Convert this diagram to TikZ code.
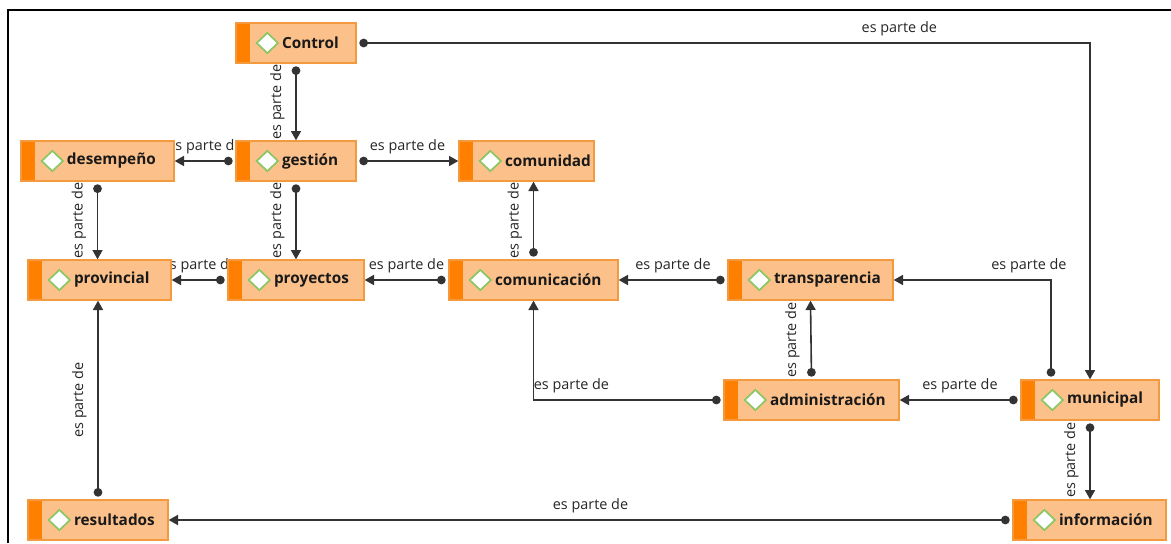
\documentclass[tikz,border=0pt]{standalone}
\usepackage{fontspec}
\setmainfont{Open Sans}
\usetikzlibrary{arrows.meta, backgrounds}
\definecolor{boxfill}{HTML}{FCC08A}
\definecolor{boxline}{HTML}{F39A3E}
\definecolor{barfill}{HTML}{FF7F00}
\definecolor{diagreen}{HTML}{8CC665}
\definecolor{linegray}{HTML}{333333}
\begin{document}
\begin{tikzpicture}[x=0.75pt, y=-0.75pt,
concept/.style={draw=boxline, fill=boxfill, line width=1pt, minimum height=30pt,
  inner xsep=0pt, text width=#1, align=left, text=black!90,
  font=\bfseries\fontsize{11.5}{13}\selectfont,
  execute at begin node={\hspace*{34.5pt}},
  path picture={
    \fill[barfill] (path picture bounding box.north west) rectangle ([xshift=10.5pt]path picture bounding box.south west);
    \draw[diagreen, fill=white, line width=1.3pt] ([xshift=15.5pt]path picture bounding box.west) -- ++(8pt,7.6pt) -- ++(8pt,-7.6pt) -- ++(-8pt,-7.6pt) -- cycle;
  }},
rel/.style={draw=linegray, line width=1.2pt, shorten <=2pt,
  {Circle[length=6.5pt]}-{Triangle[length=7pt, width=7.5pt]}},
lbl/.style={text=black!85, font=\fontsize{10.8}{12}\selectfont, inner sep=4.5pt},
vlbl/.style={lbl, rotate=90, anchor=south, inner ysep=8pt}]
\useasboundingbox (0,0) rectangle (1171,543);
% frame
\draw[line width=2.2pt] (8,543) -- (8,10) -- (1171,10);
% concepts
\node[concept=90pt] (control) at (296,43) {Control};
\node[concept=114.75pt] (desempeno) at (97.5,161) {desempeño};
\node[concept=90pt] (gestion) at (296,161) {gestión};
\node[concept=101.25pt] (comunidad) at (526.5,161) {comunidad};
\node[concept=107.25pt] (provincial) at (99.5,280) {provincial};
\node[concept=102pt] (proyectos) at (296,280) {proyectos};
\node[concept=126.75pt] (comunicacion) at (533.5,280) {comunicación};
\node[concept=123.75pt] (transparencia) at (810.5,280) {transparencia};
\node[concept=131.25pt] (administracion) at (811.5,400) {administración};
\node[concept=103.5pt] (municipal) at (1090,400) {municipal};
\node[concept=105pt] (resultados) at (98,520) {resultados};
\node[concept=114.75pt] (informacion) at (1089.5,520) {información};
% relations
\begin{scope}[on background layer]
\draw[rel] (control.east) -| node[lbl, pos=0.37, above] {es parte de} (municipal.north);
\draw[rel] (control.south) -- node[vlbl] {es parte de} (gestion.north);
\draw[rel] (gestion.west) -- node[lbl, above] {es parte de} (desempeno.east);
\draw[rel] (gestion.east) -- node[lbl, above] {es parte de} (comunidad.west);
\draw[rel] (gestion.south) -- node[vlbl] {es parte de} (proyectos.north);
\draw[rel] (desempeno.south) -- node[vlbl] {es parte de} (desempeno.south |- provincial.north);
\draw[rel] (proyectos.west) -- node[lbl, above] {es parte de} (provincial.east);
\draw[rel] (comunicacion.west) -- node[lbl, above] {es parte de} (proyectos.east);
\draw[rel] (comunicacion.north) -- node[vlbl] {es parte de} (comunicacion.north |- comunidad.south);
\draw[rel] (transparencia.west) -- node[lbl, above] {es parte de} (comunicacion.east);
\draw[rel] (administracion.north) -- node[vlbl] {es parte de} (transparencia.south);
\draw[rel] ([xshift=-29.25pt]municipal.north) |- node[lbl, pos=0.57, above] {es parte de} (transparencia.east);
\draw[rel] (municipal.west) -- node[lbl, above] {es parte de} (administracion.east);
\draw[rel] (administracion.west) -| node[lbl, pos=0.4, above] {es parte de} (comunicacion.south);
\draw[rel] (municipal.south) -- node[vlbl] {es parte de} (municipal.south |- informacion.north);
\draw[rel] (resultados.north) -- node[vlbl] {es parte de} (resultados.north |- provincial.south);
\draw[rel] (informacion.west) -- node[lbl, above] {es parte de} (resultados.east);
\end{scope}
\end{tikzpicture}
\end{document}
